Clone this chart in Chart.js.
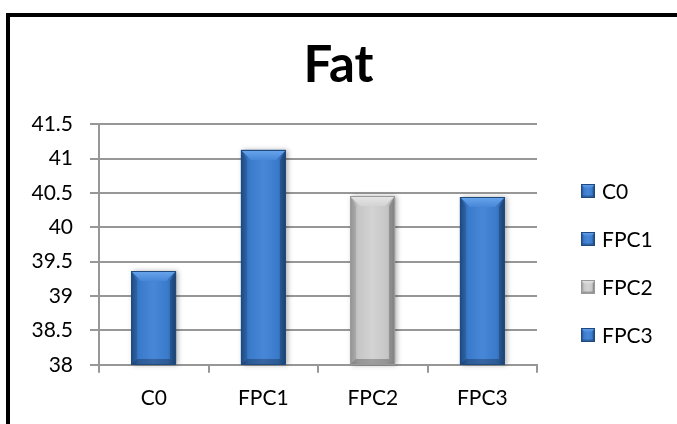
<!DOCTYPE html>
<html>
<head>
<meta charset="utf-8">
<script src="https://cdn.jsdelivr.net/npm/chart.js@4.4.1/dist/chart.umd.min.js"></script>
<style>
  html, body { margin: 0; padding: 0; background: #fff; }
  #wrap { position: relative; width: 677px; height: 424px; overflow: hidden; background: #fff; }
  #frame { position: absolute; left: 6px; top: 13px; width: 720px; height: 460px;
           border: 4px solid #000; box-sizing: border-box; }
  #c { position: absolute; left: 0; top: 0; }
</style>
</head>
<body>
<div id="wrap">
  <div id="frame"></div>
  <canvas id="c" width="677" height="424"></canvas>
</div>
<script>
// Fat content per sample
const categories = ['C0', 'FPC1', 'FPC2', 'FPC3'];
const fatValues = [39.36, 41.13, 40.45, 40.44];
const yTicks = [38, 38.5, 39, 39.5, 40, 40.5, 41, 41.5];

// bevelled bar shading
const shades = {
  blue: { body: '#3a7aca', light: '#6aa6ec', mid: '#4887d8', edge: '#23528e', dark: '#1d4476', line: '#1f4a80' },
  grey: { body: '#c6c6c6', light: '#e6e6e6', mid: '#d3d3d3', edge: '#a4a4a4', dark: '#8e8e8e', line: '#9a9a9a' }
};
const barShade = ['blue', 'blue', 'grey', 'blue'];

const axisFont = { family: 'Lato', size: 21 };
const gridColor = '#979797';

function bevelBox(ctx, x0, y0, x1, y1, b, s) {
  const w = x1 - x0, h = y1 - y0;
  b = Math.min(b, w / 2 - 1, h / 2);
  // body: darker toward both sides
  const g = ctx.createLinearGradient(x0, 0, x1, 0);
  g.addColorStop(0, s.edge);
  g.addColorStop(0.18, s.body);
  g.addColorStop(0.5, s.mid);
  g.addColorStop(0.82, s.body);
  g.addColorStop(1, s.edge);
  ctx.fillStyle = g;
  ctx.fillRect(x0, y0, w, h);
  if (b <= 0) return;
  // top facet
  const gt = ctx.createLinearGradient(0, y0, 0, y0 + b);
  gt.addColorStop(0, s.light);
  gt.addColorStop(1, s.mid);
  ctx.fillStyle = gt;
  ctx.beginPath();
  ctx.moveTo(x0, y0); ctx.lineTo(x1, y0); ctx.lineTo(x1 - b, y0 + b); ctx.lineTo(x0 + b, y0 + b);
  ctx.closePath(); ctx.fill();
  // left facet
  ctx.fillStyle = 'rgba(0,0,0,0.10)';
  ctx.beginPath();
  ctx.moveTo(x0, y0); ctx.lineTo(x0 + b * 0.6, y0 + b); ctx.lineTo(x0 + b * 0.6, y1 - b * 0.6); ctx.lineTo(x0, y1);
  ctx.closePath(); ctx.fill();
  // right facet
  ctx.fillStyle = 'rgba(0,0,0,0.22)';
  ctx.beginPath();
  ctx.moveTo(x1, y0); ctx.lineTo(x1 - b * 0.6, y0 + b); ctx.lineTo(x1 - b * 0.6, y1 - b * 0.6); ctx.lineTo(x1, y1);
  ctx.closePath(); ctx.fill();
  // bottom facet
  ctx.fillStyle = 'rgba(0,0,0,0.25)';
  ctx.beginPath();
  ctx.moveTo(x0, y1); ctx.lineTo(x1, y1); ctx.lineTo(x1 - b * 0.6, y1 - b * 0.6); ctx.lineTo(x0 + b * 0.6, y1 - b * 0.6);
  ctx.closePath(); ctx.fill();
  // outline
  ctx.strokeStyle = s.line;
  ctx.lineWidth = 1;
  ctx.strokeRect(x0 + 0.5, y0 + 0.5, w - 1, h - 1);
}

const bevelBars = {
  id: 'bevelBars',
  afterDatasetsDraw(chart) {
    const ctx = chart.ctx;
    const area = chart.chartArea;
    const meta = chart.getDatasetMeta(0);
    meta.data.forEach((bar, i) => {
      const p = bar.getProps(['x', 'y', 'base', 'width'], true);
      const x0 = Math.round(p.x - p.width / 2), x1 = Math.round(p.x + p.width / 2);
      const y0 = Math.round(p.y), y1 = Math.round(Math.min(p.base, area.bottom));
      ctx.save();
      // soft drop shadow
      ctx.shadowColor = 'rgba(0,0,0,0.30)';
      ctx.shadowBlur = 5;
      ctx.shadowOffsetX = 2;
      ctx.shadowOffsetY = 0;
      ctx.fillStyle = '#fff';
      ctx.fillRect(x0, y0, x1 - x0, y1 - y0);
      ctx.restore();
      ctx.save();
      bevelBox(ctx, x0, y0, x1, y1, 10, shades[barShade[i]]);
      ctx.restore();
    });
  }
};

const sideLegend = {
  id: 'sideLegend',
  afterDraw(chart) {
    const ctx = chart.ctx;
    const area = chart.chartArea;
    const mx = area.right + 44, size = 14, firstY = 191, gap = 48;
    ctx.save();
    ctx.font = `${axisFont.size}px ${axisFont.family}`;
    ctx.textBaseline = 'middle';
    ctx.textAlign = 'left';
    categories.forEach((name, i) => {
      const cy = firstY + i * gap;
      bevelBox(ctx, mx, cy - size / 2, mx + size, cy + size / 2, 4, shades[barShade[i]]);
      ctx.fillStyle = '#000';
      ctx.fillText(name, mx + size + 7, cy + 1);
    });
    ctx.restore();
  }
};

new Chart(document.getElementById('c'), {
  type: 'bar',
  data: {
    labels: categories,
    datasets: [{
      label: 'Fat',
      data: fatValues,
      backgroundColor: barShade.map(s => shades[s].body),
      borderWidth: 0,
      barPercentage: 0.82,
      categoryPercentage: 0.5
    }]
  },
  options: {
    responsive: false,
    animation: false,
    devicePixelRatio: 1,
    layout: { padding: { left: 10, right: 10, top: 20, bottom: 0 } },
    plugins: {
      legend: { display: false },
      tooltip: { enabled: false },
      title: {
        display: true,
        text: 'Fat',
        color: '#000',
        font: { family: 'Lato', size: 51, weight: 'bold' },
        padding: { top: 15, bottom: 28 }
      }
    },
    scales: {
      x: {
        grid: { offset: true, drawOnChartArea: false, color: gridColor, lineWidth: 2, tickLength: 8 },
        border: { color: gridColor, width: 2 },
        ticks: { color: '#000', font: axisFont, padding: 13 }
      },
      y: {
        min: yTicks[0],
        max: yTicks[yTicks.length - 1],
        afterBuildTicks: scale => { scale.ticks = yTicks.map(v => ({ value: v })); },
        afterFit: scale => { scale.width = 89; },
        grid: { color: gridColor, lineWidth: 2, tickLength: 9 },
        border: { color: gridColor, width: 2 },
        ticks: { color: '#000', font: axisFont, padding: 17, callback: v => String(v) }
      },
      // empty column on the right that holds the legend
      legendSpace: {
        type: 'linear',
        position: 'right',
        afterFit: scale => { scale.width = 130; },
        grid: { display: false },
        border: { display: false },
        ticks: { display: false }
      }
    }
  },
  plugins: [bevelBars, sideLegend]
});
</script>
</body>
</html>
